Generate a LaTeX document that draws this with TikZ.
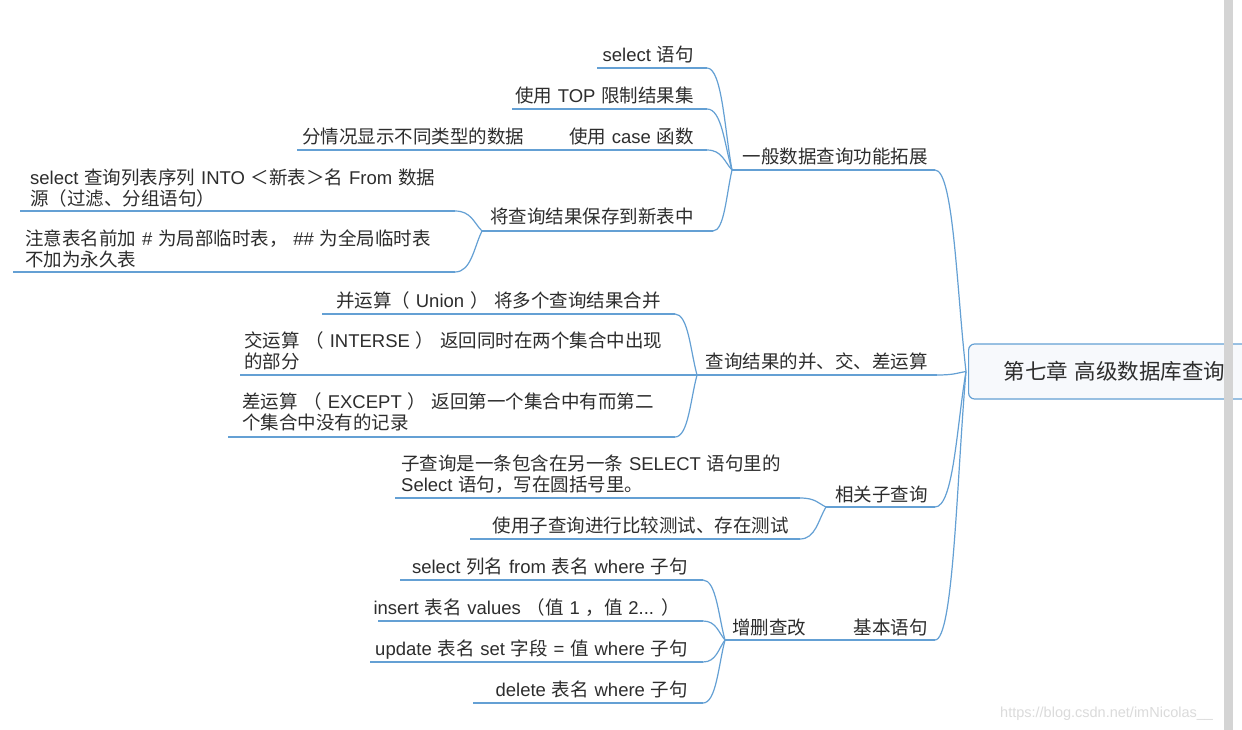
\documentclass[tikz,border=0pt]{standalone}
\usepackage{fontspec}
\setmainfont[WordSpace=1.4]{Noto Sans CJK SC}
\newfontfamily\latfont{Liberation Sans}
\newcommand\lt[1]{{\latfont #1}}
\usetikzlibrary{calc}
\definecolor{lnc}{RGB}{100,160,212}
\definecolor{txt}{RGB}{45,45,45}
\definecolor{boxfill}{RGB}{247,249,252}
\definecolor{barc}{RGB}{212,212,212}
\newcommand\lnk[2]{\draw[conn] let \p1=(#1), \p2=(#2) in (\p1) .. controls ({0.4*\x1+0.6*\x2},\y1) and ({\x2-0.3*(\x2-\x1)},{\y2-0.4*(\y2-\y1)}) .. (\p2);}
\begin{document}
\begin{tikzpicture}[x=1pt,y=-1pt,
  conn/.style={draw=lnc, line width=1.2pt},
  lbl/.style={inner sep=0pt, text=txt, font=\fontsize{18.5}{21}\selectfont},
  lblR/.style={lbl, anchor=base east},
  lblL/.style={lbl, anchor=base west, align=left},
  rootbox/.style={draw=lnc, line width=1.2pt, fill=boxfill, rounded corners=6pt, anchor=west,
    inner xsep=35pt, inner ysep=0pt, minimum height=55pt, text=txt, font=\fontsize{21.5}{21.5}\selectfont},
]
\useasboundingbox (0,0) rectangle (1242,730);
\fill[white] (0,0) rectangle (1242,730);
\clip (0,0) rectangle (1242,730);

% watermark
\node[anchor=base west, inner sep=0pt, text=black!14, font=\latfont\fontsize{14.5}{15}\selectfont] (wm) at (1000,717) {https://blog.csdn.net/imNicolas\_\_};

% root
\node[rootbox] (root) at (968,371.5) {第七章 高级数据库查询\hspace{60pt}};

% level 1
\node[lblR] (n1) at (928,164) {一般数据查询功能拓展};
\coordinate (n1L) at (732,170); \coordinate (n1R) at (935,170);
\node[lblR] (n2) at (928,368) {查询结果的并、交、差运算};
\coordinate (n2L) at (697,375); \coordinate (n2R) at (937,375);
\node[lblR] (n3) at (928,501) {相关子查询};
\coordinate (n3L) at (826,507); \coordinate (n3R) at (935,507);
\node[lblR] (n4) at (928,634) {基本语句};
\coordinate (n4L) at (845,640); \coordinate (n4R) at (935,640);
\node[lblL] (k) at (732,634) {增删查改};
\coordinate (kL) at (725,640); \coordinate (kR) at (845,640);

% under n1
\node[lblR] (a1) at (694,62) {\lt{select} 语句};
\coordinate (a1L) at (597,68); \coordinate (a1R) at (707,68);
\node[lblR] (a2) at (694,103) {使用 \lt{TOP} 限制结果集};
\coordinate (a2L) at (512,109); \coordinate (a2R) at (707,109);
\node[lblR] (a3) at (694,144) {使用 \lt{case} 函数};
\coordinate (a3L) at (565,150); \coordinate (a3R) at (707,150);
\node[lblL] (a3x) at (302,144) {分情况显示不同类型的数据};
\coordinate (a3xL) at (297,150); \coordinate (a3xR) at (565,150);
\node[lblR] (a4) at (694,224) {将查询结果保存到新表中};
\coordinate (a4L) at (482,231); \coordinate (a4R) at (713,231);
\node[lblL] (b1) at (30,205.5) {\lt{select} 查询列表序列 \lt{INTO} ＜新表＞名 \lt{From} 数据\\源（过滤、分组语句）};
\coordinate (b1L) at (20,211); \coordinate (b1R) at (455,211);
\node[lblL] (b2) at (25,266.5) {注意表名前加 \lt{\#} 为局部临时表， \lt{\#\#} 为全局临时表\\不加为永久表};
\coordinate (b2L) at (13,272); \coordinate (b2R) at (455,272);

% under n2
\node[lblR] (c1) at (661,307) {并运算（ \lt{Union} ） 将多个查询结果合并};
\coordinate (c1L) at (322,314); \coordinate (c1R) at (675,314);
\node[lblL] (c2) at (244,368) {交运算 （ \lt{INTERSE} ） 返回同时在两个集合中出现\\的部分};
\coordinate (c2L) at (240,375);
\node[lblL] (c3) at (242,429) {差运算 （ \lt{EXCEPT} ） 返回第一个集合中有而第二\\个集合中没有的记录};
\coordinate (c3L) at (228,437); \coordinate (c3R) at (675,437);

% under n3
\node[lblL] (d1) at (401,491) {子查询是一条包含在另一条 \lt{SELECT} 语句里的\\\lt{Select} 语句，写在圆括号里。};
\coordinate (d1L) at (395,498); \coordinate (d1R) at (800,498);
\node[lblR] (d2) at (789,532) {使用子查询进行比较测试、存在测试};
\coordinate (d2L) at (470,539); \coordinate (d2R) at (800,539);

% under k
\node[lblR] (e1) at (688,573) {\lt{select} 列名 \lt{from} 表名 \lt{where} 子句};
\coordinate (e1L) at (400,580); \coordinate (e1R) at (703,580);
\node[lblR] (e2) at (680,614) {\lt{insert} 表名 \lt{values} （值 \lt{1} ，值 \lt{2...} ）};
\coordinate (e2L) at (378,621); \coordinate (e2R) at (703,621);
\node[lblR] (e3) at (688,655) {\lt{update} 表名 \lt{set} 字段 \lt{=} 值 \lt{where} 子句};
\coordinate (e3L) at (370,662); \coordinate (e3R) at (703,662);
\node[lblR] (e4) at (688,696) {\lt{delete} 表名 \lt{where} 子句};
\coordinate (e4L) at (473,703); \coordinate (e4R) at (703,703);

% underlines
\foreach \u in {n1,n2,n3,n4,k,a1,a2,a3,a3x,a4,b1,b2,c1,c3,d1,d2,e1,e2,e3,e4}
  \draw[conn] (\u L) -- (\u R);
\draw[conn] (c2L) -- (n2L);

% connectors
\coordinate (rj) at (966,371.5);
\lnk{n1R}{rj} \lnk{n2R}{rj} \lnk{n3R}{rj} \lnk{n4R}{rj}
\lnk{a1R}{n1L} \lnk{a2R}{n1L} \lnk{a3R}{n1L} \lnk{a4R}{n1L}
\lnk{b1R}{a4L} \lnk{b2R}{a4L}
\lnk{c1R}{n2L} \lnk{c3R}{n2L}
\lnk{d1R}{n3L} \lnk{d2R}{n3L}
\lnk{e1R}{kL} \lnk{e2R}{kL} \lnk{e3R}{kL} \lnk{e4R}{kL}

% scrollbar
\fill[barc] (1224,0) rectangle (1233,730);
\end{tikzpicture}
\end{document}
